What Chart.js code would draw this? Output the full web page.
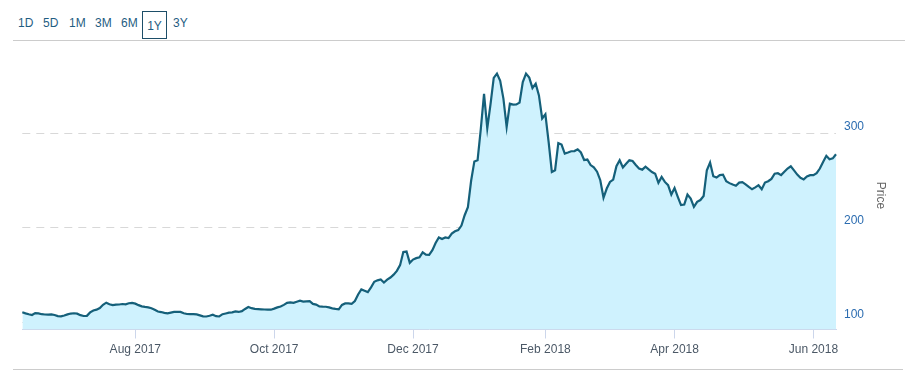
<!DOCTYPE html>
<html>
  <head>
    <title>Price - 1Y</title>
    <script src="https://cdn.jsdelivr.net/npm/chart.js"></script>
    <style>
      body {
        margin: 0;
        width: 908px;
        height: 382px;
        position: relative;
        overflow: hidden;
        background: #ffffff;
        font-family: "Liberation Sans", Arial, sans-serif;
      }

      .ranges span {
        position: absolute;
        top: 16px;
        font-size: 12px;
        line-height: 14px;
        color: #1f5d82;
      }

      .ranges span.active {
        top: 11px;
        width: 23px;
        height: 24px;
        line-height: 24px;
        padding-top: 2px;
        text-align: center;
        border: 1px solid #1d4e68;
        box-sizing: content-box;
      }

      .rule {
        position: absolute;
        left: 13px;
        height: 0;
        border-top: 1px solid #cccccc;
      }

      .chart-container {
        position: absolute;
        left: 0;
        top: 39px;
        width: 908px;
        height: 330px;
      }
    </style>
  </head>
  <body>
    <div class="ranges">
      <span style="left: 18px">1D</span>
      <span style="left: 43px">5D</span>
      <span style="left: 69px">1M</span>
      <span style="left: 95px">3M</span>
      <span style="left: 121px">6M</span>
      <span class="active" style="left: 142px">1Y</span>
      <span style="left: 173px">3Y</span>
    </div>
    <div class="rule" style="top: 40px; width: 892px"></div>
    <div class="chart-container">
      <canvas id="myChart"></canvas>
    </div>
    <div class="rule" style="top: 369px; width: 890px"></div>

    <script>
      // trading days, Jun 12 2017 - Jun 12 2018
      const firstDay = "2017-06-12";
      const lastDay = "2018-06-12";
      const holidays = [
        "2017-07-04", "2017-09-04", "2017-11-23", "2017-12-25",
        "2018-01-01", "2018-01-15", "2018-02-19", "2018-03-30", "2018-05-28",
      ];

      const tickDays = ["2017-08-01", "2017-10-02", "2017-12-01", "2018-02-01", "2018-04-02", "2018-06-01"];
      const tickLabels = ["Aug 2017", "Oct 2017", "Dec 2017", "Feb 2018", "Apr 2018", "Jun 2018"];
      const yTicks = [100, 200, 300];

      const prices = [
        110.6, 109.5, 108.5, 107.7, 109.8, 109.5, 108.6, 108.3, 108.2, 108.5,
        107.8, 106.6, 106.3, 107.2, 108.4, 109.3, 109.6, 109.2, 107.6, 106.7,
        106.9, 110.5, 112.6, 113.4, 115.2, 118.6, 120.8, 119.2, 118.2, 118.8,
        118.9, 119.4, 119.0, 120.2, 120.6, 119.8, 118.2, 116.9, 116.3, 115.9,
        115.0, 113.4, 111.5, 110.9, 110.0, 109.5, 110.3, 111.0, 111.0, 111.0,
        109.6, 108.8, 108.6, 108.7, 108.4, 107.4, 106.4, 106.2, 107.0, 108.0,
        106.5, 106.2, 108.6, 109.4, 110.2, 110.6, 111.6, 111.0, 111.8, 114.2,
        116.2, 115.0, 114.2, 114.0, 113.8, 113.6, 113.5, 113.4, 114.5, 115.8,
        116.8, 118.5, 120.6, 121.2, 120.6, 121.8, 122.9, 122.0, 122.3, 122.4,
        119.5, 118.8, 116.8, 116.6, 116.5, 115.8, 114.8, 114.2, 113.8, 118.5,
        120.0, 120.1, 119.6, 122.5, 129.5, 134.8, 133.4, 132.0, 137.0, 143.0,
        144.5, 145.5, 142.2, 145.2, 147.5, 150.5, 154.5, 160.6, 174.5, 175.0,
        163.0, 166.5, 168.0, 168.8, 174.1, 171.7, 171.5, 176.5, 184.0, 190.0,
        188.3, 189.9, 189.3, 194.0, 196.5, 197.8, 202.5, 213.5, 222.0, 250.0,
        270.5, 271.8, 305.0, 342.0, 305.5, 331.0, 359.0, 363.5, 356.0, 337.0,
        307.0, 331.7, 330.7, 330.8, 332.8, 354.6, 363.5, 359.3, 348.3, 352.9,
        340.5, 316.0, 320.4, 291.1, 259.4, 261.2, 290.0, 288.4, 278.8, 280.0,
        281.3, 281.5, 283.4, 280.0, 272.0, 272.5, 266.6, 264.2, 259.6, 250.6,
        232.0, 241.8, 248.8, 251.3, 265.4, 271.7, 264.0, 268.0, 271.7, 271.0,
        266.8, 263.0, 261.8, 265.0, 262.0, 259.2, 257.5, 247.8, 254.0, 248.8,
        245.3, 235.4, 242.4, 233.0, 224.2, 224.8, 235.4, 231.2, 222.3, 227.6,
        229.6, 233.8, 261.2, 269.3, 254.8, 253.4, 256.0, 256.5, 249.5, 247.5,
        246.0, 244.8, 248.0, 248.5, 246.2, 243.5, 241.0, 243.0, 245.3, 241.0,
        248.1, 249.5, 252.0, 257.5, 258.0, 256.0, 259.5, 263.0, 265.3, 261.0,
        256.5, 253.2, 251.5, 254.5, 255.9, 255.9, 258.0, 263.0, 270.0, 276.5,
        272.8, 273.8, 278.1,
      ];

      function tradingDays(from, to) {
        const out = [];
        const d = new Date(from + "T00:00:00Z");
        const end = new Date(to + "T00:00:00Z");
        while (d <= end) {
          const s = d.toISOString().slice(0, 10);
          const wd = d.getUTCDay();
          if (wd !== 0 && wd !== 6 && !holidays.includes(s)) out.push(s);
          d.setUTCDate(d.getUTCDate() + 1);
        }
        return out;
      }

      const days = tradingDays(firstDay, lastDay);
      const font = { family: "'Liberation Sans', Arial, sans-serif", size: 12 };

      const ctx = document.getElementById("myChart").getContext("2d");
      new Chart(ctx, {
        type: "line",
        data: {
          labels: days,
          datasets: [
            {
              label: "Price",
              data: prices,
              borderColor: "#15607a",
              backgroundColor: "#cff2fe",
              borderWidth: 2.2,
              pointRadius: 0,
              tension: 0,
              fill: "start",
            },
          ],
        },
        options: {
          responsive: true,
          maintainAspectRatio: false,
          animation: false,
          layout: { padding: { left: 22.3, right: 0, top: 0, bottom: 0 } },
          plugins: {
            legend: { display: false },
            tooltip: { enabled: false },
          },
          scales: {
            x: {
              type: "category",
              offset: false,
              afterBuildTicks: (s) => {
                s.ticks = tickDays.map((d) => ({ value: days.indexOf(d) }));
              },
              afterFit: (s) => {
                s.height = 39.5;
              },
              grid: {
                drawOnChartArea: false,
                drawTicks: true,
                tickLength: 9,
                color: "#ccd6eb",
              },
              border: { display: true, color: "#ccd6eb", width: 1 },
              ticks: {
                autoSkip: false,
                maxRotation: 0,
                padding: 4,
                color: "#4b5866",
                font: font,
                callback: (v) => tickLabels[tickDays.indexOf(days[v])],
              },
            },
            y: {
              position: "right",
              min: 92.4,
              max: 376.5,
              afterBuildTicks: (s) => {
                s.ticks = yTicks.map((v) => ({ value: v }));
              },
              afterFit: (s) => {
                s.width = 72;
              },
              grid: { color: "#d8d8d8", drawTicks: false },
              border: { display: false, dash: [8, 6] },
              ticks: {
                padding: 8,
                color: "#2b6cb0",
                font: font,
                // empty second line lifts the label above its gridline
                callback: (v) => [String(v), ""],
              },
              title: {
                display: true,
                text: "Price",
                color: "#666666",
                font: font,
                padding: { top: 20, bottom: 0 },
              },
            },
          },
        },
      });
    </script>
  </body>
</html>
